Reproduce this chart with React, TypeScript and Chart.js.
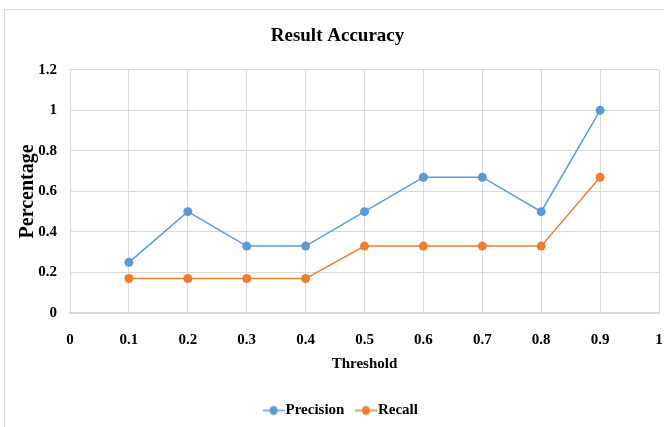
import React, { useEffect, useRef } from "react";
import { Chart, registerables } from "chart.js";

Chart.register(...registerables);

const thresholds = [0.1, 0.2, 0.3, 0.4, 0.5, 0.6, 0.7, 0.8, 0.9];
const precision = [0.25, 0.5, 0.33, 0.33, 0.5, 0.67, 0.67, 0.5, 1.0];
const recall = [0.17, 0.17, 0.17, 0.17, 0.33, 0.33, 0.33, 0.33, 0.67];
const seriesNames = ["Precision", "Recall"];
const seriesColors = ["#5B9BD5", "#ED7D31"];
const chartTitle = "Result Accuracy";
const xTitle = "Threshold";
const yTitle = "Percentage";

const FONT = "'Liberation Serif', 'Times New Roman', serif";

function legendImage(color: string): HTMLCanvasElement {
  const c = document.createElement("canvas");
  c.width = 22;
  c.height = 12;
  const ctx = c.getContext("2d")!;
  ctx.strokeStyle = color;
  ctx.lineWidth = 1.5;
  ctx.beginPath();
  ctx.moveTo(0, 6);
  ctx.lineTo(22, 6);
  ctx.stroke();
  ctx.fillStyle = color;
  ctx.beginPath();
  ctx.ellipse(11, 6, 4, 4.5, 0, 0, Math.PI * 2);
  ctx.fill();
  return c;
}

function fmt(v: number | string): string {
  return String(Number(Number(v).toFixed(1)));
}

const legendShift = {
  id: "legendShift",
  afterLayout(chart: any) {
    if (chart.legend) {
      chart.legend.left += 6;
      chart.legend.right += 6;
    }
  },
};

export default function App() {
  const ref = useRef<HTMLCanvasElement>(null);

  useEffect(() => {
    if (!ref.current) return;
    const imgs = seriesColors.map(legendImage);
    const mk = (vals: number[]) => thresholds.map((t, i) => ({ x: t, y: vals[i] }));
    const chart = new Chart(ref.current, {
      type: "line",
      data: {
        datasets: [precision, recall].map((vals, i) => ({
          label: seriesNames[i],
          data: mk(vals),
          borderColor: seriesColors[i],
          backgroundColor: seriesColors[i],
          borderWidth: 1.5,
          pointRadius: 4.5,
          pointHoverRadius: 4.5,
          pointBorderWidth: 0,
          tension: 0,
        })),
      },
      plugins: [legendShift],
      options: {
        responsive: false,
        animation: false,
        devicePixelRatio: 1,
        layout: { padding: { left: 16, right: 5, top: 0, bottom: -1 } },
        plugins: {
          tooltip: { enabled: false },
          title: {
            display: true,
            text: chartTitle,
            color: "#000",
            font: { family: FONT, size: 19, weight: "bold" },
            padding: { top: 25, bottom: 22 },
          },
          legend: {
            position: "bottom",
            labels: {
              usePointStyle: true,
              pointStyleWidth: 9,
              boxHeight: 12,
              padding: 17,
              color: "#000",
              font: { family: FONT, size: 15, weight: "bold" },
              generateLabels: (ch: any) =>
                ch.data.datasets.map((ds: any, i: number) => ({
                  text: ds.label,
                  pointStyle: imgs[i],
                  fillStyle: seriesColors[i],
                  strokeStyle: seriesColors[i],
                  lineWidth: 0,
                  hidden: false,
                  datasetIndex: i,
                  fontColor: "#000",
                })),
            },
          },
        },
        scales: {
          x: {
            type: "linear",
            min: 0,
            max: 1,
            ticks: {
              stepSize: 0.1,
              padding: 18,
              color: "#000",
              font: { family: FONT, size: 15, weight: "bold" },
              callback: (v: any) => fmt(v),
              maxRotation: 0,
            },
            grid: { color: "#D9D9D9", lineWidth: 1, drawTicks: false },
            border: { color: "#D9D9D9", width: 1.5 },
            title: {
              display: true,
              text: xTitle,
              color: "#000",
              font: { family: FONT, size: 15, weight: "bold" },
              padding: { top: 5, bottom: 13 },
            },
            afterFit: (scale: any) => {
              scale.height = 73;
              scale.paddingRight = 0;
            },
          },
          y: {
            type: "linear",
            min: 0,
            max: 1.2,
            ticks: {
              stepSize: 0.2,
              padding: 13,
              color: "#000",
              font: { family: FONT, size: 15, weight: "bold" },
              callback: (v: any) => fmt(v),
            },
            grid: { color: "#D9D9D9", lineWidth: 1, drawTicks: false },
            border: { color: "#D9D9D9", width: 1 },
            title: {
              display: true,
              text: yTitle,
              color: "#000",
              font: { family: FONT, size: 20, weight: "bold" },
              padding: { top: 0, bottom: 0 },
            },
            afterFit: (scale: any) => {
              scale.width = 54;
            },
          },
        },
      },
    });
    return () => chart.destroy();
  }, []);

  return (
    <div
      style={{
        position: "fixed",
        left: 0,
        top: 0,
        width: 664,
        height: 427,
        background: "#fff",
        overflow: "hidden",
      }}
    >
      <div
        style={{
          position: "absolute",
          left: 4,
          top: 9,
          width: 700,
          height: 500,
          border: "1px solid #D9D9D9",
        }}
      />
      <canvas ref={ref} width={664} height={427} style={{ position: "absolute", left: 0, top: 0 }} />
    </div>
  );
}
